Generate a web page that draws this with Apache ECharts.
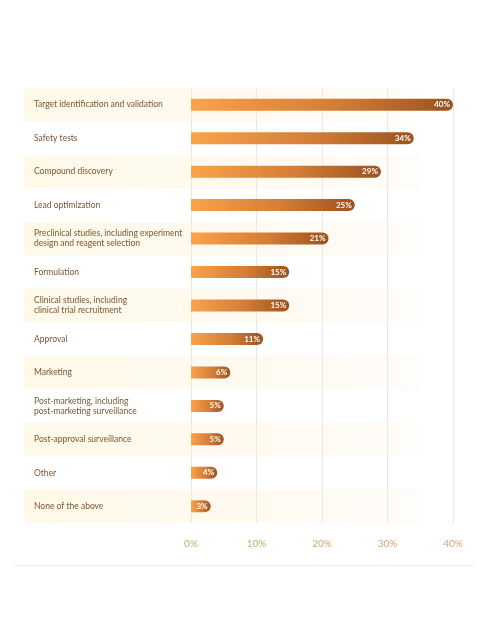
<!DOCTYPE html>
<html><head><meta charset="utf-8">
<script src="https://cdn.jsdelivr.net/npm/echarts@6/dist/echarts.min.js"></script>
<style>html,body{margin:0;padding:0;background:#fff}#c{width:483px;height:623px}</style>
</head><body><div id="c"></div>
<script>
const categories = ["Target identification and validation","Safety tests","Compound discovery","Lead optimization","Preclinical studies, including experiment\ndesign and reagent selection","Formulation","Clinical studies, including\nclinical trial recruitment","Approval","Marketing","Post-marketing, including\npost-marketing surveillance","Post-approval surveillance","Other","None of the above"];
const values = [40,34,29,25,21,15,15,11,6,5,5,4,3];
const ticks = [0,10,20,30,40];
const chart = echarts.init(document.getElementById('c'));
chart.setOption({
  animation:false,
  grid:{left:191,right:30,top:88,bottom:100},
  xAxis:{type:'value',min:0,max:40,interval:10,
    axisLabel:{formatter:v=>ticks.includes(v)?v+'%':'',color:'#d2a66e',fontFamily:'Lato',fontSize:10,margin:16},
    splitLine:{lineStyle:{color:'#efe7de'}},axisLine:{show:false},axisTick:{show:false}},
  yAxis:{type:'category',inverse:true,data:categories,
    axisLine:{show:false},axisTick:{show:false},
    axisLabel:{align:'left',margin:157,color:'#7a5530',fontFamily:'Lato',fontSize:8.5,lineHeight:10}},
  series:[{type:'bar',data:values,barWidth:12,
    itemStyle:{borderRadius:[0,6,6,0],color:new echarts.graphic.LinearGradient(0,0,1,0,[{offset:0,color:'#fba24b'},{offset:0.55,color:'#d47d36'},{offset:1,color:'#9b521e'}])},
    label:{show:true,position:'insideRight',formatter:p=>p.value+'%',color:'#fff',fontFamily:'Lato',fontSize:8,fontWeight:'bold',distance:3}}]
});
const g=[];
const h = chart.convertToPixel({yAxisIndex:0},categories[1]) - chart.convertToPixel({yAxisIndex:0},categories[0]);
categories.forEach((c,i)=>{ if(i%2===0){const y=chart.convertToPixel({yAxisIndex:0},c);
  g.push({type:'rect',z:-1,shape:{x:24,y:y-h/2,width:396,height:h},style:{fill:new echarts.graphic.LinearGradient(0,0,1,0,[{offset:0,color:'#fff9ea'},{offset:0.6,color:'#fffaf0'},{offset:1,color:'#fffdfa'}])}});}});
g.push({type:'rect',shape:{x:14,y:565,width:460,height:1},style:{fill:'#eeeeee'}});
chart.setOption({graphic:g});
</script></body></html>
